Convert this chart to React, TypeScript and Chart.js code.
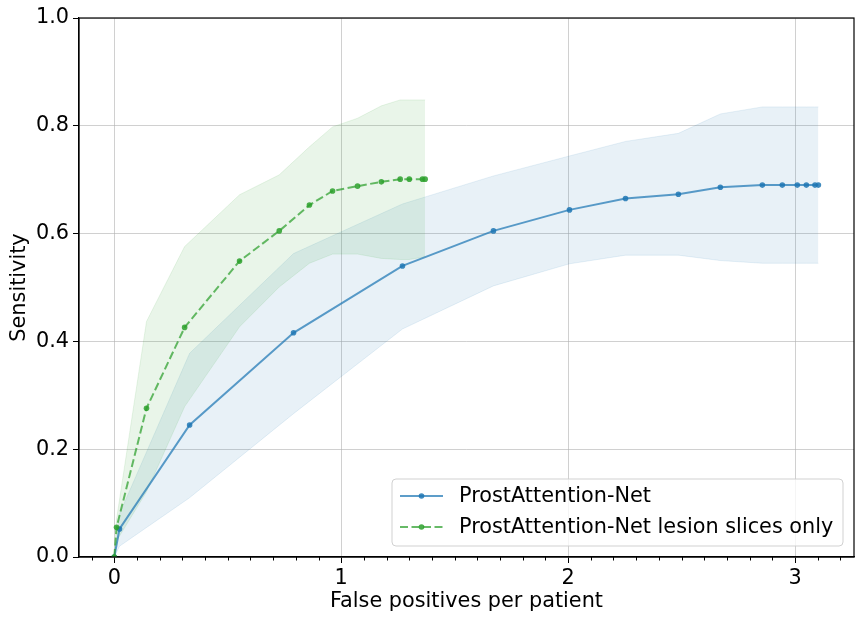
import { useEffect, useRef } from "react"
import { Chart, registerables } from "chart.js"

Chart.register(...registerables)

// ProstAttention-Net (blue)
const netFp = [0, 0.023, 0.332, 0.79, 1.27, 1.671, 2.006, 2.253, 2.486, 2.671, 2.856, 2.944, 3.01, 3.05, 3.088, 3.103]
const netSens = [0, 0.052, 0.245, 0.416, 0.54, 0.605, 0.644, 0.665, 0.673, 0.686, 0.69, 0.69, 0.69, 0.69, 0.69, 0.69]
const netUpper = [0, 0.08, 0.378, 0.563, 0.655, 0.707, 0.744, 0.771, 0.786, 0.822, 0.835, 0.835, 0.835, 0.835, 0.835, 0.835]
const netLower = [0, 0.02, 0.11, 0.266, 0.423, 0.503, 0.544, 0.56, 0.56, 0.55, 0.545, 0.545, 0.545, 0.545, 0.545, 0.545]

// ProstAttention-Net lesion slices only (green)
const lesionFp = [0, 0.01, 0.142, 0.31, 0.552, 0.727, 0.86, 0.962, 1.072, 1.177, 1.26, 1.3, 1.358, 1.37]
const lesionSens = [0, 0.055, 0.276, 0.426, 0.549, 0.605, 0.653, 0.679, 0.688, 0.696, 0.701, 0.701, 0.701, 0.701]
const lesionUpper = [0, 0.07, 0.437, 0.576, 0.672, 0.709, 0.761, 0.798, 0.814, 0.837, 0.848, 0.848, 0.848, 0.848]
const lesionLower = [0, 0.03, 0.121, 0.279, 0.427, 0.501, 0.545, 0.562, 0.562, 0.554, 0.552, 0.552, 0.556, 0.557]

const xTicks = [0, 1, 2, 3]
const yTicks = [0, 0.2, 0.4, 0.6, 0.8, 1.0]

const FONT = "'DejaVu Sans', sans-serif"
const FS = 20.8

const toPoints = (xs: number[], ys: number[]) => xs.map((x, i) => ({ x, y: ys[i] }))

// spines on all four sides, minor x ticks and the matplotlib-style legend
const decorPlugin = {
  id: "decor",
  afterDraw(chart: any) {
    const { ctx, chartArea, scales } = chart
    const { left, right, top, bottom } = chartArea
    ctx.save()
    // minor ticks
    ctx.strokeStyle = "#000"
    ctx.lineWidth = 1
    for (let i = -1; i <= 32; i++) {
      if (i % 10 === 0) continue
      const px = Math.round(scales.x.getPixelForValue(i / 10)) + 0.5
      if (px < left || px > right) continue
      ctx.beginPath()
      ctx.moveTo(px, bottom)
      ctx.lineTo(px, bottom + 3.5)
      ctx.stroke()
    }
    // spines
    ctx.lineWidth = 1.2
    ctx.strokeRect(left, top, right - left, bottom - top)

    // legend
    const bx = 392, by = 479, bw = 451, bh = 67, r = 4
    ctx.beginPath()
    ctx.moveTo(bx + r, by)
    ctx.arcTo(bx + bw, by, bx + bw, by + bh, r)
    ctx.arcTo(bx + bw, by + bh, bx, by + bh, r)
    ctx.arcTo(bx, by + bh, bx, by, r)
    ctx.arcTo(bx, by, bx + bw, by, r)
    ctx.closePath()
    ctx.fillStyle = "rgba(255,255,255,0.8)"
    ctx.fill()
    ctx.strokeStyle = "rgba(204,204,204,0.9)"
    ctx.lineWidth = 1
    ctx.stroke()

    const items = chart.data.datasets.filter((d: any) => d.showInLegend)
    items.forEach((d: any, i: number) => {
      const y = 496 + i * 31
      ctx.strokeStyle = d.borderColor
      ctx.lineWidth = d.borderWidth
      ctx.setLineDash(d.borderDash || [])
      ctx.beginPath()
      ctx.moveTo(400, y)
      ctx.lineTo(443, y)
      ctx.stroke()
      ctx.setLineDash([])
      ctx.fillStyle = d.pointBackgroundColor
      ctx.beginPath()
      ctx.arc(421.5, y, 2.8, 0, Math.PI * 2)
      ctx.fill()
      ctx.fillStyle = "#000"
      ctx.font = `${FS}px ${FONT}`
      ctx.textBaseline = "middle"
      ctx.textAlign = "left"
      ctx.fillText(d.label, 459, y + 1)
    })
    ctx.restore()
  },
}

export default function App() {
  const canvasRef = useRef<HTMLCanvasElement>(null)
  const chartRef = useRef<Chart | null>(null)

  useEffect(() => {
    if (!canvasRef.current) return
    const ctx = canvasRef.current.getContext("2d")
    if (!ctx) return
    if (chartRef.current) chartRef.current.destroy()

    const band = (xs: number[], ys: number[], color: string, fill: any) => ({
      label: "",
      data: toPoints(xs, ys),
      borderColor: color,
      backgroundColor: color,
      borderWidth: 1,
      pointRadius: 0,
      fill,
      showInLegend: false,
    })

    chartRef.current = new Chart(ctx, {
      type: "line",
      data: {
        datasets: [
          {
            label: "ProstAttention-Net",
            data: toPoints(netFp, netSens),
            borderColor: "rgba(31,119,180,0.72)",
            borderWidth: 2,
            pointRadius: 2.8,
            pointBorderWidth: 0,
            pointBackgroundColor: "rgba(31,119,180,0.85)",
            fill: false,
            showInLegend: true,
            order: 1,
          },
          {
            label: "ProstAttention-Net lesion slices only",
            data: toPoints(lesionFp, lesionSens),
            borderColor: "rgba(44,160,44,0.72)",
            borderWidth: 2,
            borderDash: [8, 3.5],
            pointRadius: 2.8,
            pointBorderWidth: 0,
            pointBackgroundColor: "rgba(44,160,44,0.85)",
            fill: false,
            showInLegend: true,
            order: 0,
          },
          { ...band(netFp, netUpper, "rgba(31,119,180,0.1)", "+1"), order: 5 },
          { ...band(netFp, netLower, "rgba(31,119,180,0.1)", false), order: 5 },
          { ...band(lesionFp, lesionUpper, "rgba(44,160,44,0.1)", "+1"), order: 4 },
          { ...band(lesionFp, lesionLower, "rgba(44,160,44,0.1)", false), order: 4 },
        ] as any,
      },
      options: {
        animation: false,
        responsive: true,
        maintainAspectRatio: false,
        layout: { padding: { left: 0, right: 9, top: 18, bottom: 0 } },
        plugins: {
          legend: { display: false },
          tooltip: { enabled: false },
        },
        scales: {
          x: {
            type: "linear",
            min: -0.1555,
            max: 3.26,
            afterBuildTicks: (scale: any) => {
              scale.ticks = xTicks.map((v) => ({ value: v }))
            },
            afterFit: (scale: any) => {
              scale.height = 65
            },
            grid: {
              color: "rgba(176,176,176,0.6)",
              lineWidth: 1,
              tickColor: "#000",
              tickLength: 6,
            },
            border: { display: true, color: "#000", width: 1.2 },
            ticks: {
              color: "#000",
              padding: 3,
              maxRotation: 0,
              autoSkip: false,
              font: { family: FONT, size: FS },
              callback: (v: any) => String(v),
            },
            title: {
              display: true,
              text: "False positives per patient",
              color: "#000",
              font: { family: FONT, size: FS },
              padding: { top: 0, bottom: 8 },
            },
          },
          y: {
            type: "linear",
            min: 0,
            max: 1,
            afterBuildTicks: (scale: any) => {
              scale.ticks = yTicks.map((v) => ({ value: v }))
            },
            afterFit: (scale: any) => {
              scale.width = 79
            },
            grid: {
              color: "rgba(176,176,176,0.6)",
              lineWidth: 1,
              tickColor: "#000",
              tickLength: 6,
            },
            border: { display: true, color: "#000", width: 1.2 },
            ticks: {
              color: "#000",
              padding: 4,
              autoSkip: false,
              font: { family: FONT, size: FS },
              callback: (v: any) => Number(v).toFixed(1),
            },
            title: {
              display: true,
              text: "Sensitivity",
              color: "#000",
              font: { family: FONT, size: FS },
              padding: { top: 7, bottom: 0 },
            },
          },
        },
      },
      plugins: [decorPlugin],
    })

    return () => {
      if (chartRef.current) {
        chartRef.current.destroy()
        chartRef.current = null
      }
    }
  }, [])

  return (
    <div style={{ position: "fixed", left: 0, top: 0, width: 863, height: 622, background: "#fff" }}>
      <canvas ref={canvasRef}></canvas>
    </div>
  )
}
